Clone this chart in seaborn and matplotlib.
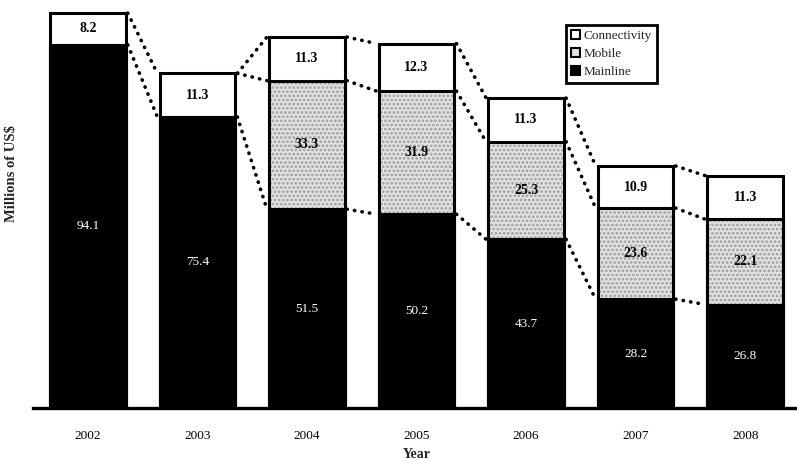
import numpy as np
import pandas as pd
import matplotlib
matplotlib.use("Agg")
import matplotlib.pyplot as plt
from matplotlib.patches import Patch
import seaborn as sns

# Revenue by product line, millions of US$
years = ["2002", "2003", "2004", "2005", "2006", "2007", "2008"]
mainline = [94.1, 75.4, 51.5, 50.2, 43.7, 28.2, 26.8]
mobile = [0.0, 0.0, 33.3, 31.9, 25.3, 23.6, 22.1]
connectivity = [8.2, 11.3, 11.3, 12.3, 11.3, 10.9, 11.3]

sns.set_theme(style="white")
plt.rcParams["font.family"] = ["Liberation Serif", "DejaVu Serif"]
plt.rcParams["hatch.linewidth"] = 1.3

df = pd.DataFrame({"year": years, "mainline": mainline,
                   "mobile": mobile, "connectivity": connectivity})
df["mid"] = df["mainline"] + df["mobile"]
df["total"] = df["mid"] + df["connectivity"]

fig = plt.figure(figsize=(7.97, 4.62), dpi=100)
ax = fig.add_axes([33 / 797, 54 / 462, 767 / 797, 408 / 462])

BAR_W = 0.69
EDGE = 2.2
GREY = "#e2e2e2"


def layer(col, face, edge, lw, hatch=None):
    n0 = len(ax.patches)
    sns.barplot(data=df, x="year", y=col, order=years, color=face,
                width=BAR_W, errorbar=None, ax=ax)
    for p in ax.patches[n0:]:
        p.set_facecolor(face)
        p.set_edgecolor(edge)
        p.set_linewidth(lw)
        if hatch:
            p.set_hatch(hatch)


# full stacks (connectivity on top), then mobile, then mainline
layer("total", "white", "black", EDGE)
layer("mid", GREY, "#9c9c9c", 0, hatch="....")
layer("mid", "none", "black", EDGE)
layer("mainline", "black", "black", EDGE)

# dotted connectors between neighbouring stacks
levels = [("total", "connectivity"), ("mid", "mobile"), ("mainline", "mainline")]
half = BAR_W / 2
for i in range(len(years) - 1):
    for col, seg in levels:
        a_seg, b_seg = df[seg].iloc[i], df[seg].iloc[i + 1]
        if a_seg == 0 and b_seg == 0:
            continue
        y0 = df[col].iloc[i] if a_seg > 0 else df["total"].iloc[i]
        y1 = df[col].iloc[i + 1] if b_seg > 0 else df["total"].iloc[i + 1]
        ax.plot([i + half + 0.02, i + 1 - half - 0.02], [y0, y1], color="black",
                lw=2.6, linestyle=(0, (0.1, 2.0)), dash_capstyle="round",
                zorder=1)

# segment value labels
for i in range(len(years)):
    m, mo, c = mainline[i], mobile[i], connectivity[i]
    ax.text(i, m / 2, f"{m:.1f}", color="white", ha="center", va="center",
            fontsize=9.5)
    if mo > 0:
        ax.text(i, m + mo / 2, f"{mo:.1f}", color="black", ha="center",
                va="center", fontsize=10, fontweight="bold")
    if c > 0:
        ax.text(i, m + mo + c / 2, f"{c:.1f}", color="black", ha="center",
                va="center", fontsize=10, fontweight="bold")

ax.set_xlim(-0.5, 6.5)
ax.set_ylim(0, 105.7)
ax.set_yticks([])
for s in ["left", "right", "top"]:
    ax.spines[s].set_visible(False)
ax.spines["bottom"].set_linewidth(2.4)
ax.spines["bottom"].set_color("black")
ax.tick_params(axis="x", length=0, pad=16, labelsize=9.5, colors="black")

ax.set_xlabel("Year", fontsize=10, fontweight="bold", labelpad=4)
ax.set_ylabel("Millions of US$", fontsize=10.5, fontweight="bold")
ax.yaxis.set_label_coords(-0.02, 0.574)

handles = [Patch(facecolor="white", edgecolor="black", lw=1.5),
           Patch(facecolor=GREY, edgecolor="black", lw=1.5),
           Patch(facecolor="black", edgecolor="black", lw=1.5)]
leg = ax.legend(handles, ["Connectivity", "Mobile", "Mainline"],
                loc="upper left", bbox_to_anchor=(0.695, 0.939),
                fontsize=9.5, frameon=True, fancybox=False,
                handlelength=0.7, handleheight=0.7, handletextpad=0.3,
                labelspacing=0.45, borderpad=0.35, borderaxespad=0)
leg.get_frame().set_edgecolor("black")
leg.get_frame().set_linewidth(2.0)
leg.get_frame().set_alpha(1)

fig.savefig("out.png", dpi=100)
